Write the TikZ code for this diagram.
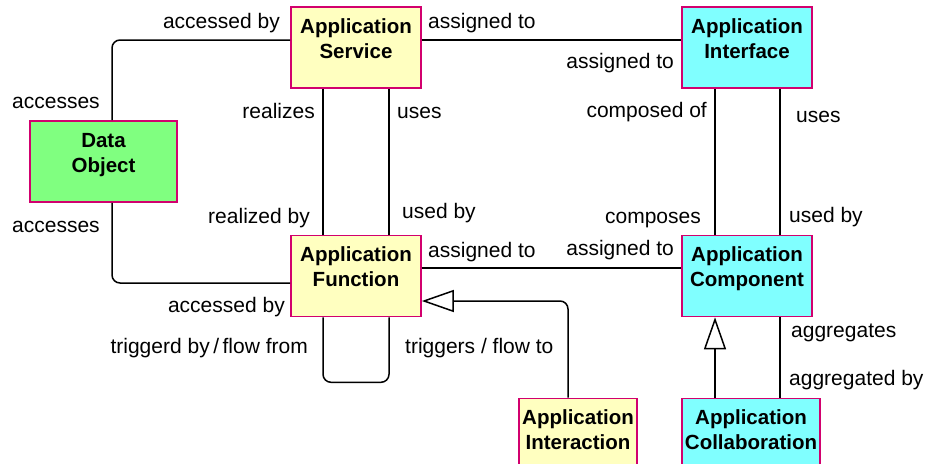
\documentclass[tikz,border=0pt]{standalone}
\usepackage{fontspec}
\setmainfont{Liberation Sans}
\usepackage{xcolor}
\usetikzlibrary{arrows.meta, calc}

\definecolor{elemline}{RGB}{210,0,110}
\definecolor{appyellow}{RGB}{255,255,192}
\definecolor{appcyan}{RGB}{128,255,255}
\definecolor{datagreen}{RGB}{128,255,128}

\begin{document}
\begin{tikzpicture}[x=1pt, y=-1pt,
  elem/.style={draw=elemline, line width=1.6pt, minimum width=130pt, minimum height=81pt,
    inner sep=0pt, align=center, font=\fontsize{20.5}{25}\selectfont\bfseries, text depth=18pt},
  conn/.style={line width=1.5pt, rounded corners=8pt},
  spec/.style={-{Triangle[open, length=32pt, width=22pt]}},
  lbl/.style={font=\fontsize{21}{24}\selectfont, inner sep=0pt}]
\clip (0,0) rectangle (925,463);

% elements
\node[elem, fill=appyellow] (svc) at (356,47.5) {Application\\Service};
\node[elem, fill=datagreen, minimum width=147pt] (dobj) at (103.5,161.5) {Data\\Object};
\node[elem, fill=appcyan] (intf) at (747,47.5) {Application\\Interface};
\node[elem, fill=appyellow] (func) at (356,276) {Application\\Function};
\node[elem, fill=appcyan] (comp) at (747,276) {Application\\Component};
\node[elem, fill=appyellow, minimum width=118pt] (intr) at (578,439) {Application\\Interaction};
\node[elem, fill=appcyan, minimum width=138pt] (collab) at (751,439) {Application\\Collaboration};

% access relations
\draw[conn] ([xshift=8.5pt]dobj.north) |- ([yshift=7.5pt]svc.west);
\draw[conn] ([xshift=8.5pt]dobj.south) |- ([yshift=-7pt]func.west);
\node[lbl, anchor=base east] (l1) at (280,28) {accessed by};
\node[lbl, anchor=base west] (l2) at (12,108) {accesses};
\node[lbl, anchor=base west] (l3) at (12,232) {accesses};
\node[lbl, anchor=base east] (l4) at (285,312) {accessed by};

% service - function
\draw[conn] ([xshift=-33pt]svc.south) -- ([xshift=-33pt]func.north);
\draw[conn] ([xshift=33pt]svc.south) -- ([xshift=33pt]func.north);
\node[lbl, anchor=base east] (l5) at (315,118) {realizes};
\node[lbl, anchor=base east] (l6) at (310,223) {realized by};
\node[lbl, anchor=base west] (l7) at (397,118) {uses};
\node[lbl, anchor=base west] (l8) at (402,218) {used by};

% assignments
\draw[conn] ([yshift=7.5pt]svc.east) -- ([yshift=7.5pt]intf.west);
\draw[conn] ([yshift=8pt]func.east) -- ([yshift=8pt]comp.west);
\node[lbl, anchor=base west] (l9) at (428,28) {assigned to};
\node[lbl, anchor=base east] (l10) at (674,68) {assigned to};
\node[lbl, anchor=base west] (l11) at (428,257) {assigned to};
\node[lbl, anchor=base east] (l12) at (674,255) {assigned to};

% interface - component
\draw[conn] ([xshift=-32pt]intf.south) -- ([xshift=-32pt]comp.north);
\draw[conn] ([xshift=33pt]intf.south) -- ([xshift=33pt]comp.north);
\node[lbl, anchor=base east] (l13) at (707,117) {composed of};
\node[lbl, anchor=base east] (l14) at (701,223) {composes};
\node[lbl, anchor=base west] (l15) at (796,122) {uses};
\node[lbl, anchor=base west] (l16) at (789,222) {used by};

% triggers / flow
\draw[conn] ([xshift=-33pt]func.south) -- ++(0,65) -| ([xshift=33pt]func.south);
\node[lbl, anchor=base east] (l17) at (308,353) {triggerd by\,/\,flow from};
\node[lbl, anchor=base west] (l18) at (405,353) {triggers / flow to};
\draw[conn, spec] ([xshift=-10pt]intr.north) |- ([yshift=-25pt]func.east);

% collaboration
\draw[conn, spec] ([xshift=-32pt]comp.south |- collab.north) -- ([xshift=-32pt]comp.south);
\draw[conn] ([xshift=33pt]comp.south |- collab.north) -- ([xshift=33pt]comp.south);
\node[lbl, anchor=base west] (l19) at (791,337) {aggregates};
\node[lbl, anchor=base west] (l20) at (789,385) {aggregated by};
\end{tikzpicture}
\end{document}
